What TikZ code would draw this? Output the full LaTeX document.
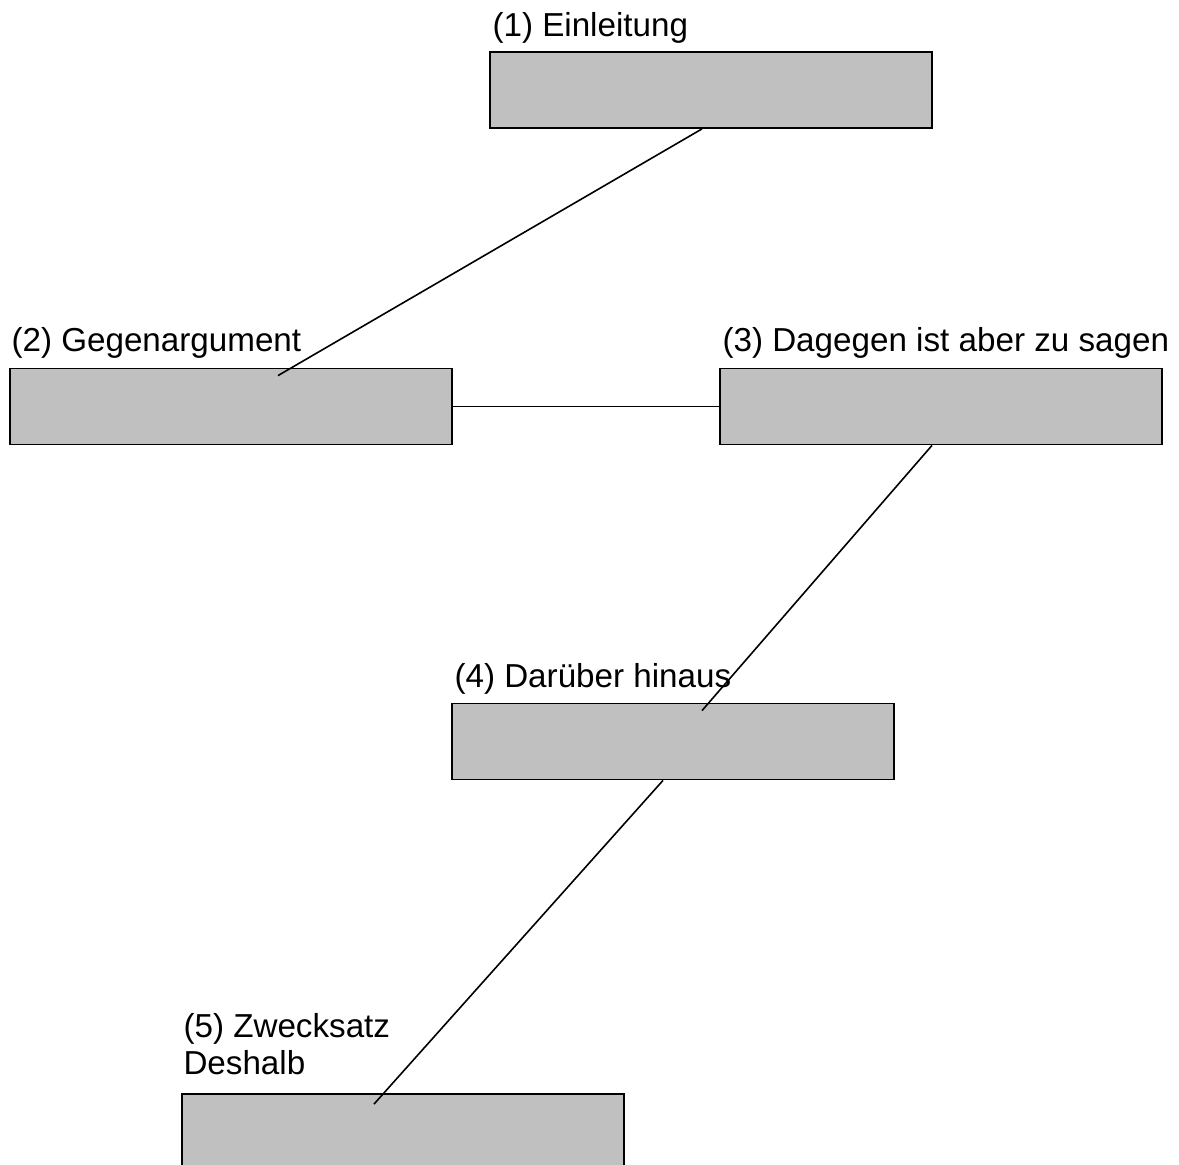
\documentclass[tikz,border=0pt]{standalone}
\usepackage{fontspec}
\setmainfont{Liberation Sans}
\usetikzlibrary{positioning}
\definecolor{blockgray}{HTML}{C0C0C0}
\tikzset{
	bloc/.style = {rectangle, draw=black, fill=blockgray, line width=0.9pt,
		minimum width=221pt, minimum height=38pt, inner sep=0pt},% Kasten
	titre/.style = {inner sep=0pt, align=left, anchor=base west,
		font=\fontsize{16.6}{18.5}\selectfont},% Beschriftung ueber dem Kasten
	lien/.style = {draw=black, line width=0.8pt}% Verbindungslinie
}
\begin{document}
\begin{tikzpicture}[x=0.5pt,y=-0.5pt]
	\useasboundingbox (0,0) rectangle (1179,1165);
	% Kaesten
	\node[bloc] (b1) at (711,90) {};
	\node[bloc] (b2) at (231,406.5) {};
	\node[bloc] (b3) at (941,406.5) {};
	\node[bloc] (b4) at (673,741.5) {};
	\node[bloc] (b5) at (403,1132) {};
	% Beschriftungen
	\node[above=7.5pt of b1.north west, titre, xshift=1.5pt] (t1) {(1) Einleitung};
	\node[above=8pt of b2.north west, titre, xshift=1pt] (t2) {(2) Gegenargument};
	\node[above=8pt of b3.north west, titre, xshift=1.5pt] (t3) {(3) Dagegen ist aber zu sagen};
	\node[above=7.5pt of b4.north west, titre, xshift=1.5pt] (t4) {(4) Darüber hinaus};
	\node[above=9.5pt of b5.north west, titre, xshift=1pt] (t5) {(5) Zwecksatz\\Deshalb};
	% Linien
	\draw[lien] ([xshift=-4.5pt]b1.south) -- ([xshift=23.5pt,yshift=-4pt]b2.north);
	\draw[lien] (b2.east) -- (b3.west);
	\draw[lien] ([xshift=-4.5pt]b3.south) -- ([xshift=14.5pt,yshift=-4pt]b4.north);
	\draw[lien] ([xshift=-5pt]b4.south) -- ([xshift=-14.5pt,yshift=-5.5pt]b5.north);
\end{tikzpicture}
\end{document}
